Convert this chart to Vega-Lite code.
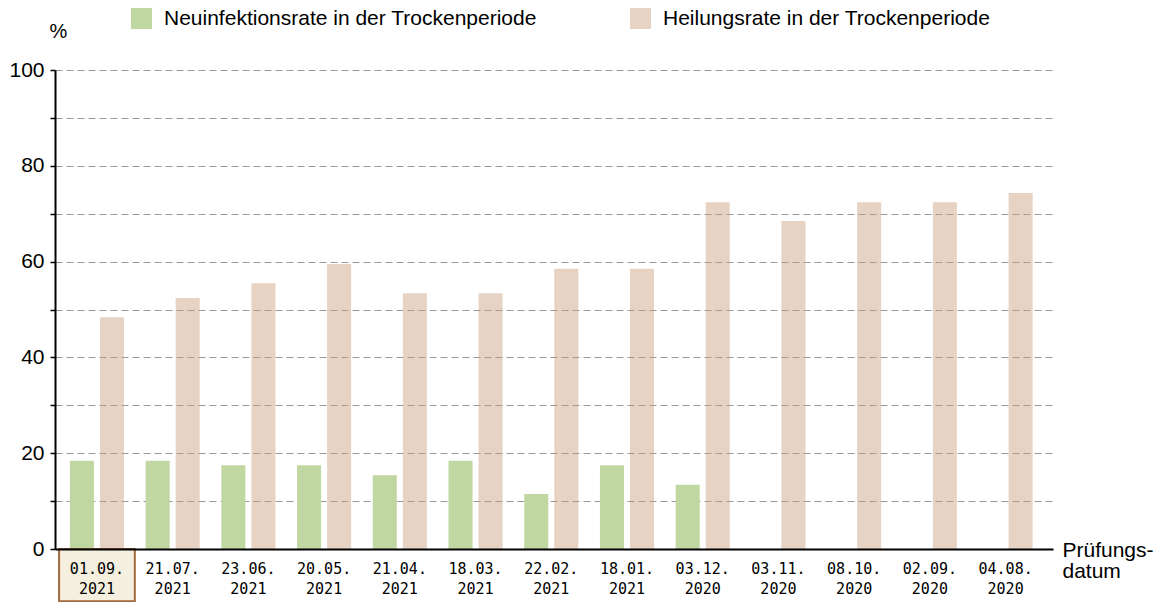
{
  "$schema": "https://vega.github.io/schema/vega-lite/v6.json",
  "width": 998,
  "height": 479,
  "autosize": {"type": "none"},
  "padding": {"left": 55, "top": 70, "right": 104, "bottom": 53},
  "background": "white",
  "config": {"view": {"stroke": null}, "font": "Liberation Sans"},
  "datasets": {
    "raten": [
      {"datum": "01.09.2021", "serie": "Neuinfektionsrate in der Trockenperiode", "wert": 18.4},
      {"datum": "01.09.2021", "serie": "Heilungsrate in der Trockenperiode", "wert": 48.4},
      {"datum": "21.07.2021", "serie": "Neuinfektionsrate in der Trockenperiode", "wert": 18.4},
      {"datum": "21.07.2021", "serie": "Heilungsrate in der Trockenperiode", "wert": 52.4},
      {"datum": "23.06.2021", "serie": "Neuinfektionsrate in der Trockenperiode", "wert": 17.5},
      {"datum": "23.06.2021", "serie": "Heilungsrate in der Trockenperiode", "wert": 55.5},
      {"datum": "20.05.2021", "serie": "Neuinfektionsrate in der Trockenperiode", "wert": 17.5},
      {"datum": "20.05.2021", "serie": "Heilungsrate in der Trockenperiode", "wert": 59.5},
      {"datum": "21.04.2021", "serie": "Neuinfektionsrate in der Trockenperiode", "wert": 15.4},
      {"datum": "21.04.2021", "serie": "Heilungsrate in der Trockenperiode", "wert": 53.4},
      {"datum": "18.03.2021", "serie": "Neuinfektionsrate in der Trockenperiode", "wert": 18.4},
      {"datum": "18.03.2021", "serie": "Heilungsrate in der Trockenperiode", "wert": 53.4},
      {"datum": "22.02.2021", "serie": "Neuinfektionsrate in der Trockenperiode", "wert": 11.5},
      {"datum": "22.02.2021", "serie": "Heilungsrate in der Trockenperiode", "wert": 58.5},
      {"datum": "18.01.2021", "serie": "Neuinfektionsrate in der Trockenperiode", "wert": 17.5},
      {"datum": "18.01.2021", "serie": "Heilungsrate in der Trockenperiode", "wert": 58.5},
      {"datum": "03.12.2020", "serie": "Neuinfektionsrate in der Trockenperiode", "wert": 13.4},
      {"datum": "03.12.2020", "serie": "Heilungsrate in der Trockenperiode", "wert": 72.4},
      {"datum": "03.11.2020", "serie": "Heilungsrate in der Trockenperiode", "wert": 68.5},
      {"datum": "08.10.2020", "serie": "Heilungsrate in der Trockenperiode", "wert": 72.4},
      {"datum": "02.09.2020", "serie": "Heilungsrate in der Trockenperiode", "wert": 72.4},
      {"datum": "04.08.2020", "serie": "Heilungsrate in der Trockenperiode", "wert": 74.3}
    ]
  },
  "data": {"name": "raten"},
  "layer": [
    {
      "mark": {"type": "bar", "clip": false},
      "encoding": {
        "x": {
          "field": "datum", "type": "nominal", "sort": null,
          "scale": {"paddingInner": 0, "paddingOuter": 0.09, "align": 0.3},
          "axis": {
            "labelExpr": "[slice(datum.label,0,6), slice(datum.label,6)]",
            "labelFont": "DejaVu Sans Mono", "labelFontSize": 15, "labelLineHeight": 20,
            "labelBaseline": "top", "labelPadding": 12, "labelAngle": 0, "labelColor": "black",
            "ticks": false, "domainColor": "black", "domainWidth": 2, "grid": false,
            "title": ["Prüfungs-", "datum"], "titleFontSize": 21, "titleFontWeight": "normal",
            "titleColor": "black", "titleAlign": "left", "titleX": 1007, "titleY": 7,
            "titleBaseline": "alphabetic", "titleLineHeight": 21, "zindex": 1
          }
        },
        "xOffset": {
          "field": "serie", "type": "nominal",
          "sort": ["Neuinfektionsrate in der Trockenperiode", "Heilungsrate in der Trockenperiode"],
          "scale": {"paddingInner": 0.2, "paddingOuter": 0.36}
        },
        "y": {
          "field": "wert", "type": "quantitative",
          "scale": {"domain": [0, 100], "nice": false, "zero": true},
          "axis": {
            "values": [0, 10, 20, 30, 40, 50, 60, 70, 80, 90, 100],
            "labelExpr": "datum.value % 20 === 0 ? datum.label : ''",
            "tickSize": 5, "tickColor": "black", "tickWidth": 1.5,
            "domainColor": "black", "domainWidth": 2,
            "grid": true, "gridColor": "#999999", "gridDash": [7, 4], "gridWidth": 1,
            "labelFontSize": 21, "labelPadding": 6, "labelColor": "black",
            "title": "%", "titleAngle": 0, "titleFontSize": 20, "titleFontWeight": "normal",
            "titleColor": "black", "titleX": 3, "titleY": -33, "titleAlign": "center",
            "titleBaseline": "alphabetic"
          }
        },
        "color": {
          "field": "serie", "type": "nominal",
          "scale": {
            "domain": ["Neuinfektionsrate in der Trockenperiode", "Heilungsrate in der Trockenperiode"],
            "range": ["#c0d7a1", "#c89d7b"]
          },
          "legend": {
            "orient": "none", "legendX": 76, "legendY": -62, "direction": "horizontal",
            "title": null, "symbolType": "square", "symbolSize": 441, "symbolStrokeWidth": 0,
            "labelFontSize": 21, "labelOffset": 12, "labelLimit": 0, "columnPadding": 93,
            "labelColor": "black",
            "encode": {
              "symbols": {
                "update": {
                  "fillOpacity": {"signal": "datum.value === 'Heilungsrate in der Trockenperiode' ? 0.45 : 1"},
                  "opacity": {"value": 1}
                }
              }
            }
          }
        },
        "fillOpacity": {
          "field": "serie", "type": "nominal",
          "scale": {
            "domain": ["Neuinfektionsrate in der Trockenperiode", "Heilungsrate in der Trockenperiode"],
            "range": [1, 0.45]
          },
          "legend": null
        }
      }
    },
    {
      "transform": [
        {"filter": "datum.datum === '01.09.2021' && datum.serie === 'Heilungsrate in der Trockenperiode'"}
      ],
      "mark": {"type": "bar", "clip": false, "fill": "#f5efdf", "stroke": "#a06a3c", "strokeWidth": 2},
      "encoding": {
        "x": {
          "field": "datum", "type": "nominal", "sort": null,
          "axis": {
            "labelExpr": "[slice(datum.label,0,6), slice(datum.label,6)]",
            "labelFont": "DejaVu Sans Mono", "labelFontSize": 15, "labelLineHeight": 20,
            "labelBaseline": "top", "labelPadding": 12, "labelAngle": 0, "labelColor": "black",
            "ticks": false, "domainColor": "black", "domainWidth": 2, "grid": false,
            "title": ["Prüfungs-", "datum"], "titleFontSize": 21, "titleFontWeight": "normal",
            "titleColor": "black", "titleAlign": "left", "titleX": 1007, "titleY": 7,
            "titleBaseline": "alphabetic", "titleLineHeight": 21, "zindex": 1
          }
        },
        "y": {"datum": 0, "type": "quantitative"},
        "y2": {"datum": -10.9}
      }
    }
  ]
}
